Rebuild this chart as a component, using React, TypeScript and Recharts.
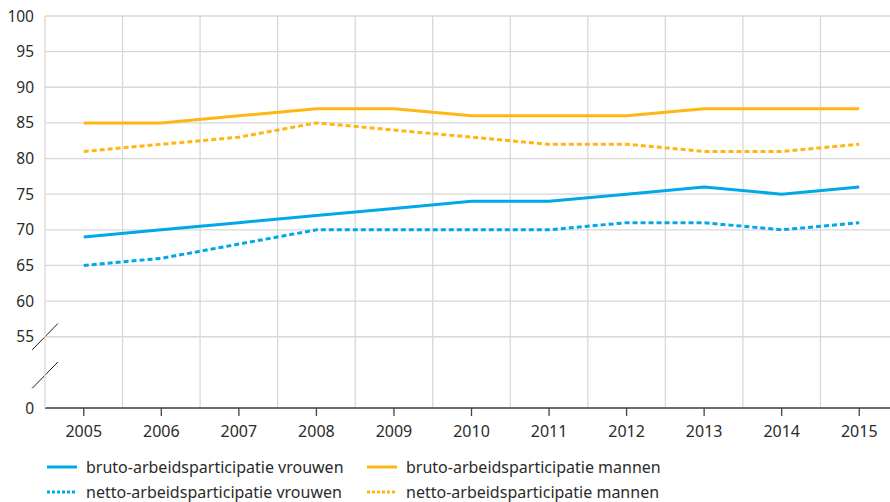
import React from "react";
import { LineChart, Line, XAxis, YAxis, CartesianGrid, ReferenceLine, Legend } from "recharts";

const years = [2005, 2006, 2007, 2008, 2009, 2010, 2011, 2012, 2013, 2014, 2015];
const brutoVrouwen = [69, 70, 71, 72, 73, 74, 74, 75, 76, 75, 76];
const nettoVrouwen = [65, 66, 68, 70, 70, 70, 70, 71, 71, 70, 71];
const brutoMannen = [85, 85, 86, 87, 87, 86, 86, 86, 87, 87, 87];
const nettoMannen = [81, 82, 83, 85, 84, 83, 82, 82, 81, 81, 82];

// y axis is broken: the bottom tick position (45) is labelled "0"
const yTicks = [45, 55, 60, 65, 70, 75, 80, 85, 90, 95, 100];
const yTickLabels = ["0", "55", "60", "65", "70", "75", "80", "85", "90", "95", "100"];
const axisBreaks = [55, 49.6];

const BLUE = "#00a8e8";
const ORANGE = "#ffb612";
const GRID = "#d8d8d8";
const TEXT = "#2b2b2b";

const series = [
  { key: "bv", name: "bruto-arbeidsparticipatie vrouwen", values: brutoVrouwen, color: BLUE, dash: undefined as string | undefined, legendDash: undefined as string | undefined },
  { key: "bm", name: "bruto-arbeidsparticipatie mannen", values: brutoMannen, color: ORANGE, dash: undefined, legendDash: undefined },
  { key: "nv", name: "netto-arbeidsparticipatie vrouwen", values: nettoVrouwen, color: BLUE, dash: "5 3", legendDash: "3 2" },
  { key: "nm", name: "netto-arbeidsparticipatie mannen", values: nettoMannen, color: ORANGE, dash: "5 3", legendDash: "3 2" },
];

const data = years.map((year, i) => {
  const row: Record<string, number> = { year };
  series.forEach((s) => {
    row[s.key] = s.values[i];
  });
  return row;
});

const boundaries = years.slice(0, -1).map((y) => y + 0.5);
const xMin = years[0] - 0.5;
const xMax = years[years.length - 1] + 0.5;

const LegendContent = () => (
  <div
    style={{
      height: 64,
      boxSizing: "border-box",
      paddingTop: 16,
      paddingLeft: 47,
      display: "flex",
      flexWrap: "wrap",
      width: 700,
      fontSize: 16,
      color: TEXT,
    }}
  >
    {series.map((s) => (
      <div key={s.key} style={{ width: 320, height: 25, display: "flex", alignItems: "center" }}>
        <svg width={30} height={6} style={{ marginRight: 9 }}>
          <line x1={0} y1={3} x2={30} y2={3} stroke={s.color} strokeWidth={3} strokeDasharray={s.legendDash} />
        </svg>
        <span>{s.name}</span>
      </div>
    ))}
  </div>
);

export default function App() {
  return (
    <div style={{ position: "absolute", left: 0, top: 0, width: 890, height: 502, overflow: "hidden", background: "#fff" }}>
      <LineChart
        width={900}
        height={502}
        data={data}
        margin={{ top: 16, right: 2, bottom: 0, left: 0 }}
        style={{ fontFamily: "'Noto Sans', sans-serif" }}
      >
        <CartesianGrid horizontal vertical={false} stroke={GRID} strokeWidth={1.3} />
        {boundaries.map((b) => (
          <ReferenceLine key={b} x={b} stroke={GRID} strokeWidth={1.3} />
        ))}
        <XAxis
          dataKey="year"
          type="number"
          domain={[xMin, xMax]}
          ticks={years}
          allowDataOverflow
          axisLine={{ stroke: "#444", strokeWidth: 1.5 }}
          tickLine={{ stroke: "#444", strokeWidth: 1.3 }}
          tickSize={8}
          tickMargin={10}
          height={30}
          tick={{ fill: TEXT, fontSize: 16 }}
        />
        <YAxis
          type="number"
          domain={[45, 100]}
          ticks={yTicks}
          width={45}
          axisLine={{ stroke: GRID, strokeWidth: 1.3 }}
          tickLine={false}
          tickSize={0}
          tickMargin={11}
          tickFormatter={(v: number) => yTickLabels[yTicks.indexOf(v)] ?? String(v)}
          tick={{ fill: TEXT, fontSize: 15.5 }}
        />
        {axisBreaks.map((b) => (
          <ReferenceLine
            key={"br" + b}
            segment={[
              { x: xMin - 0.166, y: b - 1.85 },
              { x: xMin + 0.166, y: b + 1.85 },
            ]}
            stroke="#222"
            strokeWidth={1}
            ifOverflow="visible"
          />
        ))}
        {series.map((s) => (
          <Line
            key={s.key}
            dataKey={s.key}
            name={s.name}
            type="linear"
            stroke={s.color}
            strokeWidth={3}
            strokeDasharray={s.dash}
            dot={false}
            activeDot={false}
            isAnimationActive={false}
          />
        ))}
        <Legend verticalAlign="bottom" align="left" content={<LegendContent />} />
      </LineChart>
    </div>
  );
}
